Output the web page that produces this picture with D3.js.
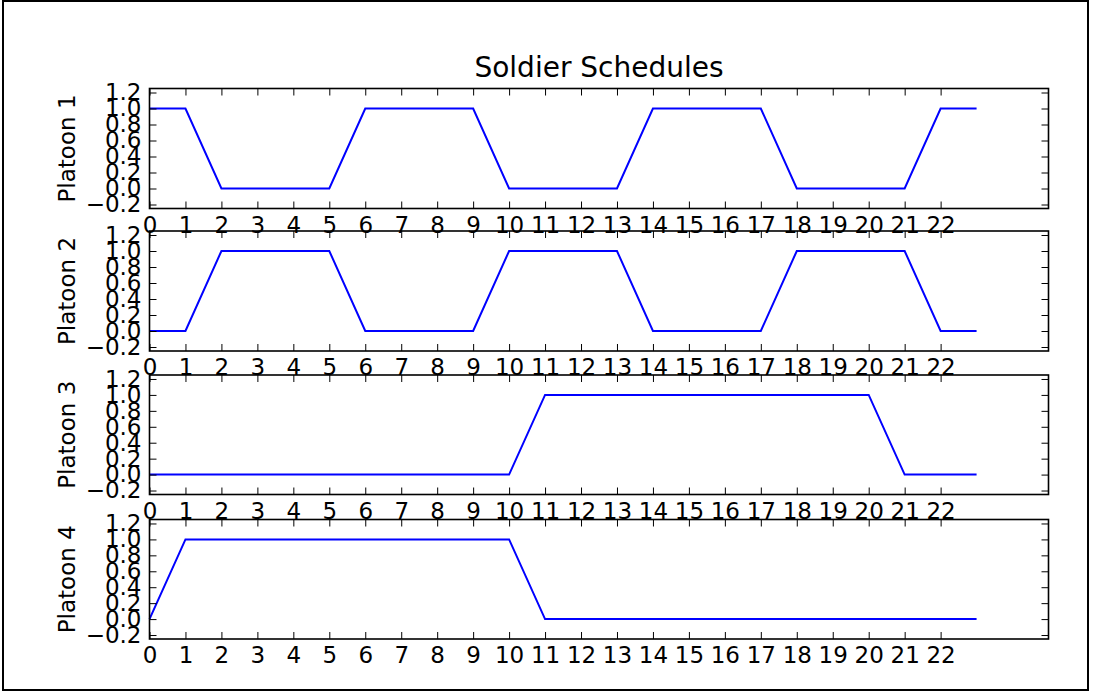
<!DOCTYPE html>
<html>
<head>
<meta charset="utf-8">
<script src="https://cdn.jsdelivr.net/npm/d3@7"></script>
<style>
  html, body { margin: 0; padding: 0; background: #fff; }
  svg { display: block; font-family: "DejaVu Sans", sans-serif; }
</style>
</head>
<body>
<svg id="chart" width="1094" height="698"></svg>
<script>
// ---- data ----
const hours = [0,1,2,3,4,5,6,7,8,9,10,11,12,13,14,15,16,17,18,19,20,21,22,23];
const platoon1 = [1,1,0,0,0,0,1,1,1,1,0,0,0,0,1,1,1,1,0,0,0,0,1,1];
const platoon2 = [0,0,1,1,1,1,0,0,0,0,1,1,1,1,0,0,0,0,1,1,1,1,0,0];
const platoon3 = [0,0,0,0,0,0,0,0,0,0,0,1,1,1,1,1,1,1,1,1,1,0,0,0];
const platoon4 = [0,1,1,1,1,1,1,1,1,1,1,0,0,0,0,0,0,0,0,0,0,0,0,0];
const seriesNames = ["Platoon 1", "Platoon 2", "Platoon 3", "Platoon 4"];
const xTicks = [0,1,2,3,4,5,6,7,8,9,10,11,12,13,14,15,16,17,18,19,20,21,22];
const yTicks = [-0.2, 0.0, 0.2, 0.4, 0.6, 0.8, 1.0, 1.2];
const title = "Soldier Schedules";

// ---- layout ----
const svg = d3.select("#chart");
const left = 149.5, right = 1048.5;
const panels = [
  {top: 88.5, bottom: 208.5},
  {top: 231, bottom: 351},
  {top: 375, bottom: 494.5},
  {top: 519.5, bottom: 639}
];
const series = [platoon1, platoon2, platoon3, platoon4];

// outer border
svg.append("rect")
  .attr("x", 3).attr("y", 1).attr("width", 1085).attr("height", 689)
  .attr("fill", "none").attr("stroke", "#000").attr("stroke-width", 2);

const x = d3.scaleLinear().domain([0, 25]).range([left, right]);
const fmt = d3.format(".1f");

series.forEach((vals, i) => {
  const p = panels[i];
  const y = d3.scaleLinear().domain([-0.25, 1.25]).range([p.bottom, p.top]);
  const g = svg.append("g");

  // line
  const line = d3.line().x((d, j) => x(hours[j])).y(d => y(d));
  g.append("path").datum(vals)
    .attr("d", line)
    .attr("fill", "none")
    .attr("stroke", "#0000ff")
    .attr("stroke-width", 2)
    .attr("stroke-linejoin", "miter");

  // axes
  const axB = g.append("g").attr("transform", `translate(0,${p.bottom})`)
    .call(d3.axisBottom(x).tickValues(xTicks).tickFormat(d3.format("d"))
      .tickSizeInner(-7).tickSizeOuter(0).tickPadding(7.7));
  const axT = g.append("g").attr("transform", `translate(0,${p.top})`)
    .call(d3.axisTop(x).tickValues(xTicks).tickFormat("")
      .tickSizeInner(-7).tickSizeOuter(0));
  const axL = g.append("g").attr("transform", `translate(${left},0)`)
    .call(d3.axisLeft(y).tickValues(yTicks).tickFormat(fmt)
      .tickSizeInner(-7).tickSizeOuter(0).tickPadding(8));
  const axR = g.append("g").attr("transform", `translate(${right},0)`)
    .call(d3.axisRight(y).tickValues(yTicks).tickFormat("")
      .tickSizeInner(-7).tickSizeOuter(0));
  [axB, axT, axL, axR].forEach(a => {
    a.select(".domain").remove();
    a.selectAll("line").attr("stroke", "#000").attr("stroke-width", 1);
    a.selectAll("text").attr("fill", "#000")
      .style("font-family", "'DejaVu Sans', sans-serif")
      .style("font-size", "23px");
  });

  // frame
  g.append("rect")
    .attr("x", left).attr("y", p.top)
    .attr("width", right - left).attr("height", p.bottom - p.top)
    .attr("fill", "none").attr("stroke", "#000").attr("stroke-width", 1.6);

  // y label
  g.append("text")
    .attr("transform", `translate(75,${(p.top + p.bottom) / 2}) rotate(-90)`)
    .attr("text-anchor", "middle")
    .style("font-size", "23px")
    .attr("fill", "#000")
    .text(seriesNames[i]);
});

// title
svg.append("text")
  .attr("x", (left + right) / 2).attr("y", 77)
  .attr("text-anchor", "middle")
  .style("font-size", "28px")
  .attr("fill", "#000")
  .text(title);
</script>
</body>
</html>
